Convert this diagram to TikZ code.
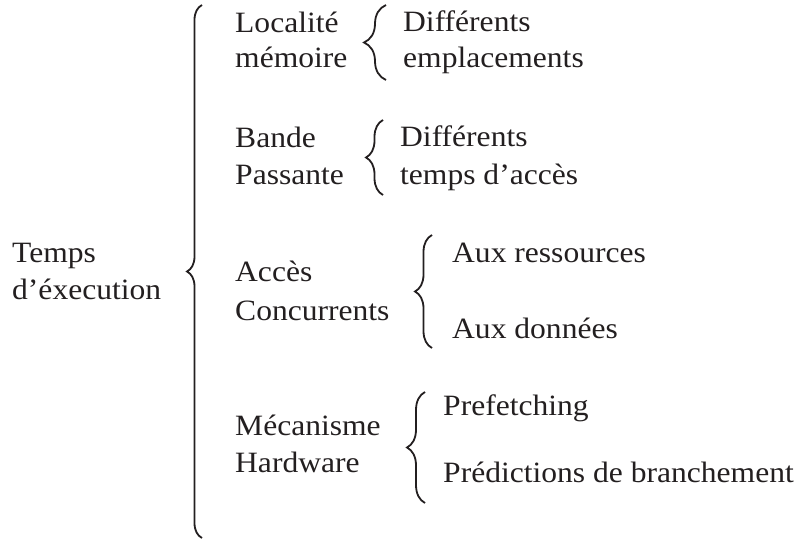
\documentclass[tikz,border=0pt]{standalone}
\usepackage{fontspec}
\setmainfont{Liberation Serif}[FakeStretch=1.07]
\usetikzlibrary{decorations.pathreplacing}
\definecolor{inkgray}{RGB}{35,31,32}
\tikzset{
  lbl/.style={anchor=base west,inner sep=0pt,text=inkgray,
    font=\fontsize{29.5}{37}\selectfont},
  brc/.style={decorate,decoration={brace,amplitude=#1},
    line width=1.8pt,draw=inkgray},
}

\begin{document}
\begin{tikzpicture}[x=1pt,y=-1pt]
  \useasboundingbox (0,0) rectangle (801,540);

  % root
  \node[lbl] (tps1) at (12,263) {Temps};
  \node[lbl] (tps2) at (12,300) {d’éxecution};

  % first level
  \node[lbl] (loc1) at (235,33) {Localité};
  \node[lbl] (loc2) at (235,68) {mémoire};
  \node[lbl] (bnd1) at (235,148) {Bande};
  \node[lbl] (bnd2) at (235,185) {Passante};
  \node[lbl] (acc1) at (235,282) {Accès};
  \node[lbl] (acc2) at (235,320) {Concurrents};
  \node[lbl] (mec1) at (235,435) {Mécanisme};
  \node[lbl] (mec2) at (235,472) {Hardware};

  % second level
  \node[lbl] (dif1) at (403,32) {Différents};
  \node[lbl] (empl) at (403,68) {emplacements};
  \node[lbl] (dif2) at (400,147) {Différents};
  \node[lbl] (tacc) at (400,185) {temps d’accès};
  \node[lbl] (ress) at (452,262) {Aux ressources};
  \node[lbl] (donn) at (452,338) {Aux données};
  \node[lbl] (pref) at (443,415) {Prefetching};
  \node[lbl] (pred) at (443,482) {Prédictions de branchement};

  % braces
  \draw[brc=15] (202,538) -- (202,5);
  \draw[brc=22] (386,80) -- (386,5);
  \draw[brc=17] (383,195) -- (383,120);
  \draw[brc=17] (432,348) -- (432,235);
  \draw[brc=18] (425,503) -- (425,392);
\end{tikzpicture}
\end{document}
